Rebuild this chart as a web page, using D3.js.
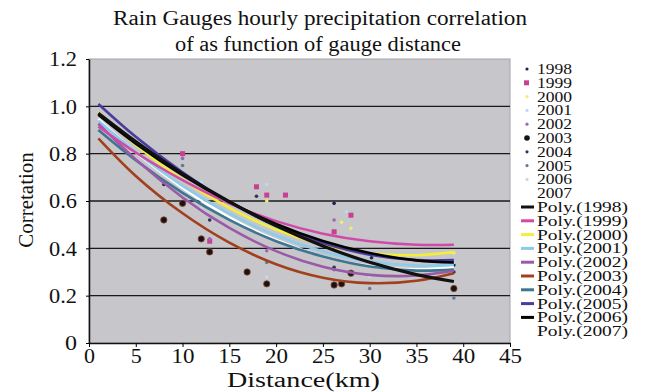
<!DOCTYPE html>
<html>
<head>
<meta charset="utf-8">
<script src="https://cdn.jsdelivr.net/npm/d3@7"></script>
<style>
  body { margin: 0; background: #fff; }
  svg text { font-family: "Liberation Serif", "DejaVu Serif", serif !important; fill: #111; }
</style>
</head>
<body>
<svg id="chart" width="645" height="392"></svg>
<script>
const svg = d3.select("#chart");

// data
const years = ["1998", "1999", "2000", "2001", "2002", "2003", "2004", "2005", "2006", "2007"];
const xTicks = [0, 5, 10, 15, 20, 25, 30, 35, 40, 45];
const yTicks = [0, 0.2, 0.4, 0.6, 0.8, 1.0, 1.2];

// trend line samples (distance km)
const trendX = [1, 5, 10, 15, 20, 25, 30, 35, 39];
const trend1998 = [0.971, 0.851, 0.715, 0.597, 0.495, 0.410, 0.341, 0.289, 0.260];
const trend1999 = [0.915, 0.805, 0.688, 0.590, 0.515, 0.462, 0.430, 0.415, 0.415];
const trend2000 = [0.975, 0.838, 0.690, 0.571, 0.479, 0.415, 0.379, 0.371, 0.384];
const trend2001 = [0.939, 0.807, 0.664, 0.547, 0.454, 0.387, 0.344, 0.327, 0.331];
const trend2002 = [0.927, 0.776, 0.615, 0.486, 0.388, 0.322, 0.288, 0.285, 0.305];
const trend2003 = [0.865, 0.706, 0.548, 0.424, 0.333, 0.276, 0.253, 0.263, 0.295];
const trend2004 = [0.900, 0.772, 0.634, 0.520, 0.430, 0.365, 0.323, 0.306, 0.310];
const trend2005 = [1.010, 0.871, 0.721, 0.595, 0.496, 0.422, 0.373, 0.350, 0.350];
const trend2006 = [0.964, 0.842, 0.709, 0.596, 0.503, 0.431, 0.380, 0.349, 0.340];
const trend2007 = [0.947, 0.806, 0.655, 0.531, 0.435, 0.366, 0.325, 0.311, 0.320];

// observed points [distance, correlation]
const pts1998 = [[8, 0.67], [26.2, 0.59], [30.2, 0.36], [39, 0.33]];
const pts1999 = [[10, 0.80], [17.9, 0.66], [19, 0.625], [21, 0.625], [28, 0.54], [12.9, 0.43], [26.2, 0.47]];
const pts2000 = [[19, 0.60], [27, 0.51], [28, 0.485], [39, 0.38]];
const pts2001 = [[12, 0.68], [19, 0.67], [27.5, 0.555], [39, 0.34]];
const pts2002 = [[10, 0.78], [26.2, 0.52], [12.9, 0.44], [19, 0.39], [26.2, 0.31]];
const pts2003 = [[8, 0.52], [10, 0.59], [12, 0.44], [12.9, 0.385], [16.9, 0.30], [19, 0.25], [26.2, 0.245], [27, 0.25], [28, 0.295], [39, 0.23]];
const pts2004 = [[17.9, 0.62], [12.9, 0.52], [26.2, 0.32], [39, 0.30]];
const pts2005 = [[10, 0.75], [19, 0.34], [30, 0.23], [39, 0.19]];
const pts2006 = [[19, 0.28], [12, 0.57], [30, 0.28]];
const pts2007 = [];

const trends = [trend1998, trend1999, trend2000, trend2001, trend2002, trend2003, trend2004, trend2005, trend2006, trend2007];
const points = [pts1998, pts1999, pts2000, pts2001, pts2002, pts2003, pts2004, pts2005, pts2006, pts2007];

const lineColors = ["#111111", "#d04aa8", "#f2ee3a", "#8ccbea", "#9a5aa6", "#a2401e", "#3f7590", "#4a3c9e", "#000000", "#ffffff"];
const pointColors = ["#1c2450", "#c8408e", "#eeee70", "#b8dcef", "#9a6ab0", "#141414", "#2e3450", "#6a7896", "#c8d8e4", "none"];

const m = { left: 89, right: 510, top: 59, bottom: 343 };

const x = d3.scaleLinear().domain([0, 45]).range([m.left, m.right]);
const y = d3.scaleLinear().domain([0, 1.2]).range([m.bottom, m.top]);

// plot area
svg.append("rect")
    .attr("x", m.left).attr("y", m.top)
    .attr("width", m.right - m.left).attr("height", m.bottom - m.top)
    .attr("fill", "#c6c6cb")
    .attr("stroke", "#a4a4a8");

// gridlines
svg.append("g")
    .selectAll("line")
    .data(yTicks.filter(d => d > 0 && d < 1.2))
    .enter().append("line")
    .attr("x1", m.left).attr("x2", m.right)
    .attr("y1", d => y(d)).attr("y2", d => y(d))
    .attr("stroke", "#1a1a1a")
    .attr("stroke-width", 1.3);

// axes
const xAxis = svg.append("g")
    .attr("transform", `translate(0,${m.bottom})`)
    .call(d3.axisBottom(x).tickValues(xTicks).tickSize(4).tickSizeOuter(0).tickPadding(2));
xAxis.select(".domain").attr("stroke", "#111").attr("stroke-width", 1.5);
xAxis.selectAll("text").attr("font-size", 20)
    .attr("textLength", d => d < 10 ? 11 : 23).attr("lengthAdjust", "spacingAndGlyphs");

const yAxis = svg.append("g")
    .attr("transform", `translate(${m.left},0)`)
    .call(d3.axisLeft(y).tickValues(yTicks).tickSize(3).tickSizeOuter(0).tickPadding(9)
        .tickFormat(d => d === 0 ? "0" : d3.format(".1f")(d)));
yAxis.select(".domain").attr("stroke", "#111").attr("stroke-width", 1.5);
yAxis.selectAll("text").attr("font-size", 21)
    .attr("textLength", d => d === 0 ? 12 : 28).attr("lengthAdjust", "spacingAndGlyphs");

// points
points.forEach((pts, i) => {
    const g = svg.append("g");
    if (i === 1) {
        g.selectAll("rect").data(pts).enter().append("rect")
            .attr("x", d => x(d[0]) - 2.5).attr("y", d => y(d[1]) - 2.5)
            .attr("width", 5).attr("height", 5)
            .attr("fill", pointColors[i]);
    } else {
        g.selectAll("circle").data(pts).enter().append("circle")
            .attr("cx", d => x(d[0])).attr("cy", d => y(d[1]))
            .attr("r", i === 5 ? 3.2 : 1.8)
            .attr("fill", pointColors[i])
            .attr("stroke", i === 5 ? "#9a4a30" : "none")
            .attr("stroke-width", 0.8);
    }
});

// trend lines
const line = d3.line()
    .x((d, i) => x(trendX[i]))
    .y(d => y(d))
    .curve(d3.curveNatural);

const drawOrder = [9, 3, 6, 4, 5, 2, 1, 7, 8, 0];
drawOrder.forEach(i => {
    svg.append("path")
        .datum(trends[i])
        .attr("d", line)
        .attr("fill", "none")
        .attr("stroke", lineColors[i])
        .attr("stroke-width", i === 0 ? 3.2 : 2.6);
});

// title
svg.append("text")
    .attr("x", 113).attr("y", 25)
    .attr("font-size", 20)
    .attr("textLength", 414).attr("lengthAdjust", "spacingAndGlyphs")
    .text("Rain Gauges hourly precipitation correlation");
svg.append("text")
    .attr("x", 175).attr("y", 51)
    .attr("font-size", 20)
    .attr("textLength", 286).attr("lengthAdjust", "spacingAndGlyphs")
    .text("of as function of gauge distance");

// axis titles
svg.append("text")
    .attr("x", 227).attr("y", 387)
    .attr("font-size", 20)
    .attr("textLength", 153).attr("lengthAdjust", "spacingAndGlyphs")
    .text("Distance(km)");
svg.append("text")
    .attr("transform", "translate(33,200) rotate(-90)")
    .attr("text-anchor", "middle")
    .attr("font-size", 21)
    .text("Corretation");

// legend
const leg = svg.append("g");
const rowH = 13.8;
years.forEach((yr, i) => {
    const cy = 69 + i * rowH;
    if (i === 1) {
        leg.append("rect").attr("x", 524).attr("y", cy - 2.5).attr("width", 5).attr("height", 5).attr("fill", pointColors[i]);
    } else if (pointColors[i] !== "none") {
        leg.append("circle").attr("cx", 527).attr("cy", cy).attr("r", i === 5 ? 2.8 : 1.6).attr("fill", pointColors[i]);
    }
    leg.append("text").attr("x", 537).attr("y", cy + 5).attr("font-size", 14)
        .attr("textLength", 35).attr("lengthAdjust", "spacingAndGlyphs").text(yr);
});
years.forEach((yr, i) => {
    const cy = 69 + (i + 10) * rowH;
    leg.append("line")
        .attr("x1", 521).attr("x2", 534)
        .attr("y1", cy).attr("y2", cy)
        .attr("stroke", lineColors[i])
        .attr("stroke-width", 3);
    leg.append("text").attr("x", 537).attr("y", cy + 5).attr("font-size", 14)
        .attr("textLength", 91).attr("lengthAdjust", "spacingAndGlyphs").text("Poly.(" + yr + ")");
});
</script>
</body>
</html>
